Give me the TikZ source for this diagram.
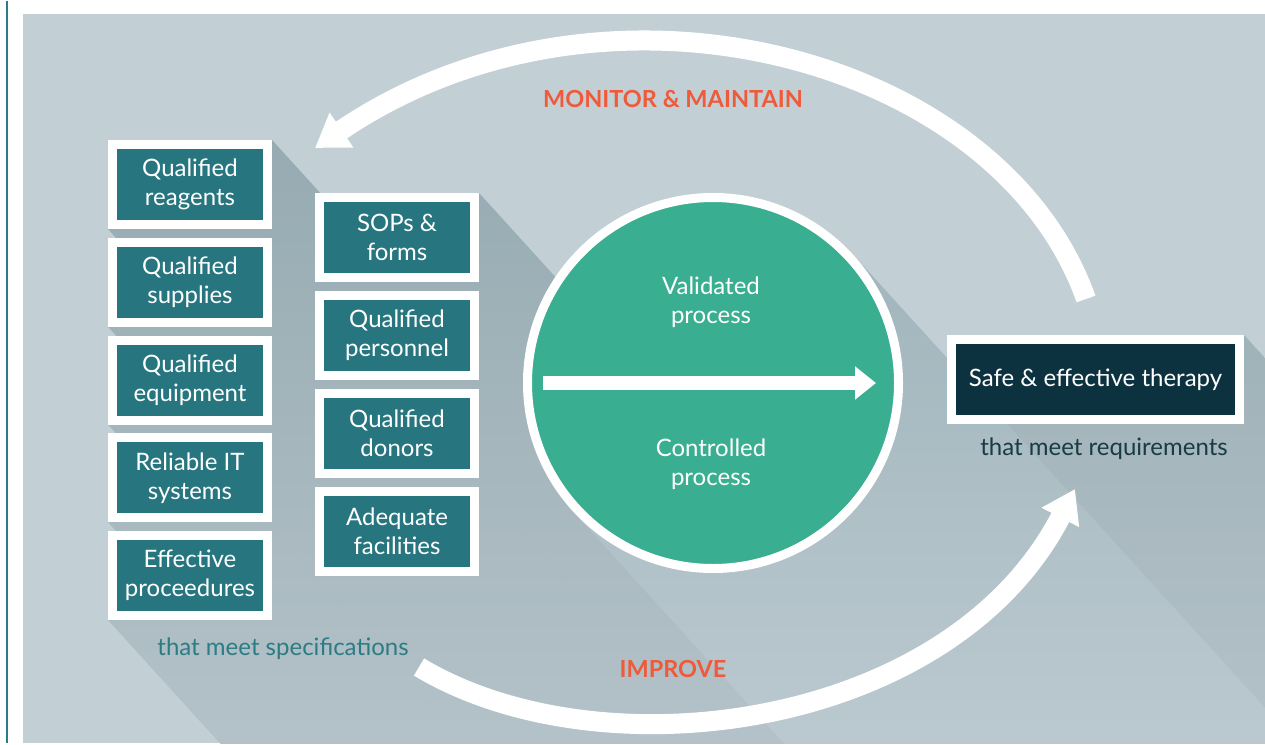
\documentclass[tikz,border=0pt]{standalone}
\usepackage{fontspec}
\setmainfont{Lato}
\usetikzlibrary{arrows.meta, calc, positioning}

\definecolor{panelc}{HTML}{C2CFD5}
\definecolor{shadowc}{HTML}{98AEB5}
\definecolor{boxteal}{HTML}{27767F}
\definecolor{processgreen}{HTML}{3AAE90}
\definecolor{navy}{HTML}{0D323F}
\definecolor{actionred}{HTML}{EF5A3A}
\definecolor{specteal}{HTML}{2B7C84}
\definecolor{reqdark}{HTML}{183B46}

\pgfdeclarelayer{back}
\pgfdeclarelayer{shade}
\pgfsetlayers{back,shade,main}

\begin{document}
\begin{tikzpicture}[
      x=1pt, y=-1pt,
      factor/.style={draw=white,line width=9pt,fill=boxteal,text=white,
        minimum width=155pt,minimum height=80pt,inner sep=0pt,align=center,
        font=\fontsize{24}{29}\selectfont},
      stage/.style={circle,draw=white,line width=9pt,fill=processgreen,minimum size=371pt},
      inner text/.style={text=white,align=center,font=\fontsize{24}{29}\selectfont},
      phase label/.style={text=actionred,font=\bfseries\fontsize{23.5}{26}\selectfont},
      note/.style={font=\fontsize{24}{26}\selectfont},
      cycle arrow/.style={draw=white,line width=20pt,-{Triangle[width=40pt,length=32pt]}},
      flow arrow/.style={draw=white,line width=14pt,-{Triangle[width=32pt,length=21pt]}},
      long shadow/.style={top color=shadowc,bottom color=panelc},
      shadow edge/.style={fill=black!60!shadowc,fill opacity=0.05}
      ]
      % frame
      \begin{pgfonlayer}{back}
        \fill[white] (0,0) rectangle (1265,742);
        \draw[specteal,line width=2pt] (7,0) -- (7,742);
        \fill[panelc] (23,13) rectangle (1265,742);
      \end{pgfonlayer}
      \useasboundingbox (0,0) rectangle (1265,742);
      % arcs
      % monitor & maintain
      \coordinate (monitor start) at (1086,298);
      \coordinate (monitor end) at (315,147);
      \draw [cycle arrow] (monitor start) .. controls (1000,55) and (605,-50) .. (monitor end);
      % improve
      \coordinate (improve start) at (419,666);
      \coordinate (improve end) at (1075,488);
      \draw [cycle arrow] (improve start) .. controls (600,775) and (950,730) .. (improve end);
      % nodes
      % specifications, left column
      \foreach \y/\name/\txt in {183.5/reagents/{Qualified\\reagents},
          281.25/supplies/{Qualified\\supplies},379/equipment/{Qualified\\equipment},
          476.75/itsystems/{Reliable IT\\systems},574.5/procedures/{Effective\\proceedures}} {
          \node [factor] (\name) at (190,\y) {\txt};
      }
      % specifications, right column
      \foreach \y/\name/\txt in {236.5/sops/{SOPs \&\\forms},334.5/personnel/{Qualified\\personnel},
          432.5/donors/{Qualified\\donors},530.5/facilities/{Adequate\\facilities}} {
          \node [factor] (\name) at (397,\y) {\txt};
      }
      % process
      \node [stage] (process) at (713,382) {};
      \draw [flow arrow] ($(process.west)+(20,0)$) -- ($(process.east)+(-27,0)$);
      \node [inner text] (validated) at (711,301) {Validated\\process};
      \node [inner text] (controlled) at (711,463) {Controlled\\process};
      % therapy
      \node [factor,fill=navy,minimum width=288pt] (therapy) at (1095.5,378.5) {Safe \& effective therapy};
      \node [note,text=reqdark] (requirements) at (1104,448) {that meet requirements};
      \node [note,text=specteal] (specifications) at (283,648) {that meet specifications};
      % labels
      \node [phase label] (monitor) at (673,98) {MONITOR \& MAINTAIN};
      \node [phase label] (improve) at (673,668) {IMPROVE};
      % long shadows
      \begin{pgfonlayer}{shade}
        \clip (23,13) rectangle (1265,742);
        \foreach \n in {reagents,supplies,equipment,itsystems,procedures,sops,personnel,donors,facilities,therapy} {
          \begin{scope}
            \clip (\n.north east) -- ++(700,770) -- ($(\n.south west)+(700,770)$) -- (\n.south west) -- cycle;
            \shade [long shadow] (23,80) rectangle (1265,880);
          \end{scope}
          \fill [shadow edge] (\n.north east) -- ++(700,770) -- ($(\n.south west)+(700,770)$) -- (\n.south west) -- cycle;
        }
        \begin{scope}
          \clip (process.42.3) -- ++(700,770) -- ($(process.222.3)+(700,770)$) -- (process.222.3) -- cycle;
          \shade [long shadow] (23,80) rectangle (1265,880);
        \end{scope}
      \end{pgfonlayer}
    \end{tikzpicture}
\end{document}
